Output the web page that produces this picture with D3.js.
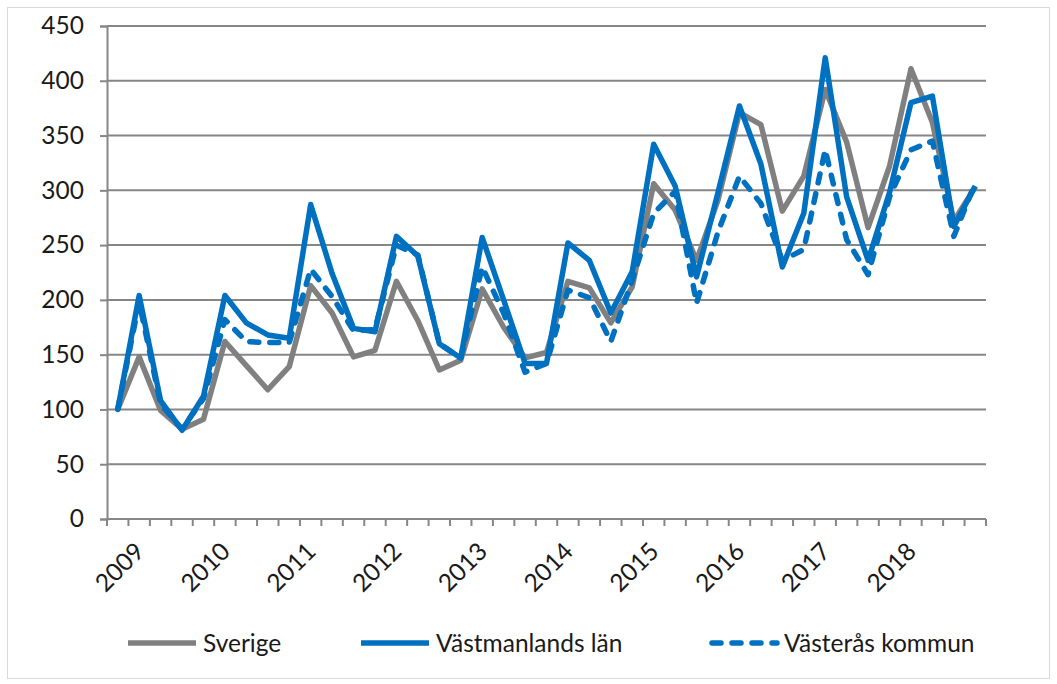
<!DOCTYPE html>
<html>
<head>
<meta charset="utf-8">
<script src="https://cdnjs.cloudflare.com/ajax/libs/d3/7.8.5/d3.min.js"></script>
<style>
    body { margin: 0; background: #fff; }
    .chart text { font-family: Lato, "Open Sans", sans-serif; fill: #1a1a1a; }
</style>
</head>
<body>
<div class="chart"></div>
<script>
// quarterly index, 2009 Q1 = 100
var quarters = d3.range(41);
var yearLabels = ["2009", "2010", "2011", "2012", "2013", "2014", "2015", "2016", "2017", "2018"];
var yTicks = [0, 50, 100, 150, 200, 250, 300, 350, 400, 450];

var sverige = [100, 148, 99, 82, 91, 162, 140, 118, 139, 213,
    188, 148, 154, 217, 181, 136, 145, 210, 175, 147,
    152, 217, 211, 179, 212, 306, 282, 236, 291, 371,
    360, 281, 313, 392, 344, 266, 322, 411, 362, 272, 303];
var vastmanland = [100, 204, 108, 81, 112, 204, 179, 168, 165, 287,
    224, 174, 171, 258, 240, 160, 147, 257, 200, 142,
    142, 252, 236, 188, 226, 342, 304, 221, 298, 377,
    324, 230, 279, 421, 294, 236, 298, 380, 386, 267, 304];
var vasteras = [100, 198, 105, 82, 110, 182, 162, 161, 161, 228,
    203, 172, 173, 250, 241, 160, 147, 230, 188, 134,
    142, 209, 202, 162, 218, 279, 299, 197, 262, 313,
    288, 236, 246, 337, 255, 223, 294, 337, 345, 258, 307];

var seriesNames = ["Sverige", "Västmanlands län", "Västerås kommun"];

var svgWidth = 1057;
var svgHeight = 684;

var margin = { top: 26, right: 71, bottom: 165, left: 107 };
var width = 986 - margin.left;
var height = 519 - margin.top;

var svg = d3.select(".chart")
    .append("svg")
    .attr("width", svgWidth)
    .attr("height", svgHeight);

// outer frame
svg.append("rect")
    .attr("x", 7.5)
    .attr("y", 7.5)
    .attr("width", 1042)
    .attr("height", 671)
    .attr("fill", "none")
    .attr("stroke", "#d9d9d9");

var chart = svg.append("g")
    .attr("transform", "translate(" + margin.left + "," + margin.top + ")");

var xBand = d3.scaleBand()
    .domain(quarters)
    .range([0, width]);

var yLinearScale = d3.scaleLinear()
    .domain([0, 450])
    .range([height, 0]);

function xMid(i) {
    return xBand(i) + xBand.bandwidth() / 2;
}

// gridlines
chart.selectAll(".grid")
    .data(yTicks.slice(1))
    .enter()
    .append("line")
    .attr("x1", 0)
    .attr("x2", width)
    .attr("y1", function(d) { return yLinearScale(d); })
    .attr("y2", function(d) { return yLinearScale(d); })
    .attr("stroke", "#868686")
    .attr("stroke-width", 2);

// y axis
var leftAxis = d3.axisLeft(yLinearScale)
    .tickValues(yTicks)
    .tickSize(7)
    .tickPadding(16);

var yAxis = chart.append("g").call(leftAxis);
yAxis.select(".domain").attr("stroke", "#868686").attr("stroke-width", 2);
yAxis.selectAll(".tick line").attr("stroke", "#868686").attr("stroke-width", 2);
yAxis.selectAll(".tick text")
    .attr("font-size", 24.5)
    .attr("fill", "#1a1a1a")
    .style("font-family", "Lato, sans-serif");

// x axis line and tick marks between quarters
chart.append("line")
    .attr("x1", 0)
    .attr("x2", width)
    .attr("y1", height)
    .attr("y2", height)
    .attr("stroke", "#868686")
    .attr("stroke-width", 2);

var boundaries = quarters.map(function(i) { return xBand(i); }).concat([width]);

chart.selectAll(".xtick")
    .data(boundaries)
    .enter()
    .append("line")
    .attr("x1", function(d) { return d; })
    .attr("x2", function(d) { return d; })
    .attr("y1", height)
    .attr("y2", height + 7)
    .attr("stroke", "#868686")
    .attr("stroke-width", 2);

chart.selectAll(".xlabel")
    .data(yearLabels)
    .enter()
    .append("text")
    .attr("text-anchor", "end")
    .attr("font-size", 24.5)
    .attr("transform", function(d, i) {
        return "translate(" + (xMid(i * 4) + 28) + "," + (height + 34) + ") rotate(-45)";
    })
    .text(function(d) { return d; });

// lines
var line = d3.line()
    .x(function(d, i) { return xMid(i); })
    .y(function(d) { return yLinearScale(d); });

chart.append("path")
    .datum(sverige)
    .attr("d", line)
    .attr("fill", "none")
    .attr("stroke", "#808080")
    .attr("stroke-width", 5.5)
    .attr("stroke-linejoin", "round");

chart.append("path")
    .datum(vastmanland)
    .attr("d", line)
    .attr("fill", "none")
    .attr("stroke", "#0070c0")
    .attr("stroke-width", 5.5)
    .attr("stroke-linejoin", "round");

chart.append("path")
    .datum(vasteras)
    .attr("d", line)
    .attr("fill", "none")
    .attr("stroke", "#0070c0")
    .attr("stroke-width", 5.5)
    .attr("stroke-linejoin", "round")
    .attr("stroke-linecap", "round")
    .attr("stroke-dasharray", "9,11");

// legend
var legendItems = [
    { name: seriesNames[0], x: 128, color: "#808080", dash: null },
    { name: seriesNames[1], x: 361, color: "#0070c0", dash: null },
    { name: seriesNames[2], x: 709, color: "#0070c0", dash: "9,11" }
];

var legend = svg.append("g").attr("transform", "translate(0,643)");

legend.selectAll("line")
    .data(legendItems)
    .enter()
    .append("line")
    .attr("x1", function(d) { return d.x + (d.dash ? 3 : 0); })
    .attr("x2", function(d) { return d.x + 68; })
    .attr("y1", 0)
    .attr("y2", 0)
    .attr("stroke", function(d) { return d.color; })
    .attr("stroke-width", 5.5)
    .attr("stroke-linecap", function(d) { return d.dash ? "round" : "butt"; })
    .attr("stroke-dasharray", function(d) { return d.dash; });

legend.selectAll("text")
    .data(legendItems)
    .enter()
    .append("text")
    .attr("x", function(d) { return d.x + 75; })
    .attr("y", 8.5)
    .attr("font-size", 24.5)
    .text(function(d) { return d.name; });
</script>
</body>
</html>
